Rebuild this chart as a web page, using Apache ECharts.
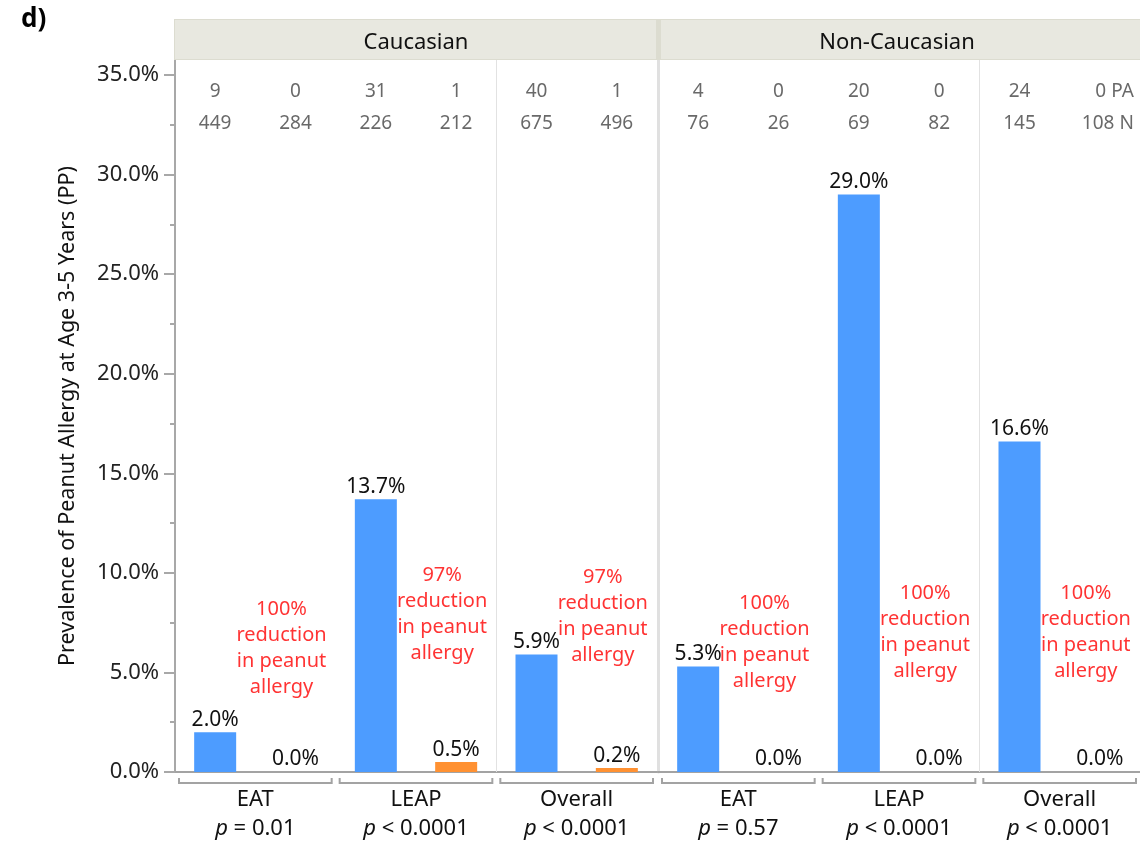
<!DOCTYPE html>
<html>
<head>
<meta charset="utf-8">
<title>Peanut allergy prevalence by ethnicity</title>
<script src="https://cdn.jsdelivr.net/npm/echarts@6/dist/echarts.min.js"></script>
<style>
  html, body { margin: 0; padding: 0; background: #fff; }
  #chart { width: 1140px; height: 848px; }
</style>
</head>
<body>
<div id="chart"></div>
<script>
// ---- data ----------------------------------------------------------------
// Each study contributes two bars: standard introduction (blue) then early introduction (orange).
const panels = ['Caucasian', 'Non-Caucasian'];
const studies = ['EAT', 'LEAP', 'Overall'];
const barSlots = ['EAT-SI', 'EAT-EI', 'LEAP-SI', 'LEAP-EI', 'Overall-SI', 'Overall-EI'];

const prevalenceCaucasian = [2.0, 0.0, 13.7, 0.5, 5.9, 0.2];
const prevalenceNonCaucasian = [5.3, 0.0, 29.0, 0.0, 16.6, 0.0];

const paCaucasian = [9, 0, 31, 1, 40, 1];
const nCaucasian = [449, 284, 226, 212, 675, 496];
const paNonCaucasian = [4, 0, 20, 0, 24, 0];
const nNonCaucasian = [76, 26, 69, 82, 145, 108];

const pCaucasian = ['= 0.01', '< 0.0001', '< 0.0001'];
const pNonCaucasian = ['= 0.57', '< 0.0001', '< 0.0001'];

const reductionCaucasian = ['100%', '97%', '97%'];
const reductionNonCaucasian = ['100%', '100%', '100%'];

const yTickValues = [0, 5, 10, 15, 20, 25, 30, 35];
const yMinorValues = [2.5, 7.5, 12.5, 17.5, 22.5, 27.5, 32.5];

// ---- layout / style ------------------------------------------------------
const FONT = 'Noto Sans';
const BLUE = '#4d9cff';
const ORANGE = '#ff9132';
const RED = '#ff0000';
const Y_MAX = 35.75;           // axis runs a little above the last tick
const ROW_PA = 34.15;          // count rows sit at the top of each panel
const ROW_N = 32.55;
const NOTE_Y = [[6.2, 7.9, 7.8], [6.5, 7.0, 7.0]];

const gridsPx = [
  { left: 175, right: 1140 - 657, top: 60, bottom: 76 },
  { left: 658, right: 0, top: 60, bottom: 76 }
];

const panelData = [
  { prev: prevalenceCaucasian, pa: paCaucasian, n: nCaucasian, p: pCaucasian, red: reductionCaucasian },
  { prev: prevalenceNonCaucasian, pa: paNonCaucasian, n: nNonCaucasian, p: pNonCaucasian, red: reductionNonCaucasian }
];

const chart = echarts.init(document.getElementById('chart'), null, { renderer: 'canvas' });

const grid = gridsPx.map(g => Object.assign({ containLabel: false }, g));
const xAxis = [];
const yAxis = [];
const series = [];

panelData.forEach((pd, g) => {
  // bar axis (6 slots)
  xAxis.push({
    type: 'category', gridIndex: g, data: barSlots,
    axisLine: { show: true, lineStyle: { color: '#a3a3a3', width: 2 } },
    axisTick: { show: false }, axisLabel: { show: false }, splitLine: { show: false }
  });
  // study axis (3 groups) carries the labels and the brackets
  xAxis.push({
    type: 'category', gridIndex: g, data: studies, position: 'bottom',
    axisLine: { show: false, onZero: false }, axisTick: { show: false },
    splitLine: { show: false },
    axisLabel: {
      interval: 0, margin: 13, fontFamily: FONT, color: '#111', fontSize: 22, lineHeight: 29,
      formatter: (v, i) => `{g|${v}}\n{p|p}{t| ${pd.p[i]}}`,
      rich: {
        g: { fontFamily: FONT, fontSize: 22, color: '#111', lineHeight: 29 },
        p: { fontFamily: FONT, fontSize: 22, color: '#111', fontStyle: 'italic', lineHeight: 29 },
        t: { fontFamily: FONT, fontSize: 22, color: '#111', lineHeight: 29 }
      }
    }
  });

  if (g === 0) {
    yAxis.push({
      type: 'value', gridIndex: 0, position: 'left', min: 0, max: Y_MAX, interval: 5,
      name: 'Prevalence of Peanut Allergy at Age 3-5 Years (PP)',
      nameLocation: 'middle', nameGap: 96,
      nameTextStyle: { fontFamily: FONT, fontSize: 21.5, color: '#111' },
      axisLine: { show: true, lineStyle: { color: '#a8a8a8', width: 2 } },
      axisTick: { show: true, customValues: yTickValues, length: 11, lineStyle: { color: '#a8a8a8', width: 2 } },
      axisLabel: {
        customValues: yTickValues, margin: 16, fontFamily: FONT, fontSize: 22, color: '#222',
        formatter: v => (Math.abs(v % 5) < 1e-9 ? v.toFixed(1) + '%' : '')
      },
      splitLine: { show: false }
    });
    // minor ticks between the labelled ones
    yAxis.push({
      type: 'value', gridIndex: 0, position: 'left', offset: 0, min: 0, max: Y_MAX, interval: 5,
      axisLine: { show: false, onZero: false },
      axisTick: { show: true, customValues: yMinorValues, length: 5, lineStyle: { color: '#a8a8a8', width: 2 } },
      axisLabel: { show: false }, splitLine: { show: false }
    });
  } else {
    yAxis.push({
      type: 'value', gridIndex: 1, position: 'left', min: 0, max: Y_MAX, interval: 5,
      axisLine: { show: true, lineStyle: { color: '#e0e0e0', width: 3 } },
      axisTick: { show: false }, axisLabel: { show: false }, splitLine: { show: false }
    });
  }

  const xBar = g * 2;
  const xStudy = g * 2 + 1;
  const yIdx = g === 0 ? 0 : 2;

  series.push({
    type: 'bar', name: panels[g], xAxisIndex: xBar, yAxisIndex: yIdx,
    barWidth: 42, z: 3,
    data: pd.prev.map((v, i) => ({ value: v, itemStyle: { color: i % 2 === 0 ? BLUE : ORANGE } })),
    label: {
      show: true, position: 'top', distance: 2, fontFamily: FONT, fontSize: 21, color: '#111',
      formatter: p => p.value.toFixed(1) + '%'
    }
  });

  const countRow = (vals, rowY, suffix) => ({
    type: 'scatter', xAxisIndex: xBar, yAxisIndex: yIdx, symbolSize: 1, silent: true,
    itemStyle: { color: 'rgba(0,0,0,0)' },
    data: vals.map((v, i) => {
      const item = { value: [i, rowY], count: v };
      if (g === 1 && i === vals.length - 1) {
        item.label = { formatter: v + ' ' + suffix, align: 'right', offset: [34, 0] };
      }
      return item;
    }),
    label: {
      show: true, position: 'inside', align: 'center', verticalAlign: 'middle',
      fontFamily: FONT, fontSize: 19, color: '#444',
      formatter: p => String(p.data.count)
    }
  });
  series.push(countRow(pd.pa, ROW_PA, 'PA'));
  series.push(countRow(pd.n, ROW_N, 'N'));

  // reduction notes beside the early-introduction bars
  series.push({
    type: 'scatter', xAxisIndex: xBar, yAxisIndex: yIdx, symbolSize: 1, silent: true,
    itemStyle: { color: 'rgba(0,0,0,0)' },
    data: pd.red.map((r, k) => ({ value: [k * 2 + 1, NOTE_Y[g][k]], note: r })),
    label: {
      show: true, position: 'inside', align: 'center', verticalAlign: 'middle', offset: [-14, 0],
      fontFamily: FONT, fontSize: 20, lineHeight: 26, color: RED,
      formatter: p => p.data.note + '\nreduction\nin peanut\nallergy'
    }
  });

  // brackets under each study, and the divider in front of the pooled "Overall" group
  series.push({
    type: 'custom', xAxisIndex: xStudy, yAxisIndex: yIdx, silent: true, clip: false, z: 1,
    data: studies.map((s, i) => [i, 0]),
    renderItem: (params, api) => {
      const idx = api.value(0);
      const c = api.coord([idx, 0]);
      const top = api.coord([idx, Y_MAX])[1];
      const w = api.size([1, 0])[0];
      const x0 = c[0] - w / 2 + 4, x1 = c[0] + w / 2 - 4, y = c[1] + 11;
      const children = [{
        type: 'polyline',
        shape: { points: [[x0, y - 5], [x0, y], [x1, y], [x1, y - 5]] },
        style: { stroke: '#a3a3a3', lineWidth: 2, fill: null }
      }];
      if (studies[idx] === 'Overall') {
        const xs = Math.round(c[0] - w / 2) + 0.5;
        children.push({
          type: 'line',
          shape: { x1: xs, y1: top, x2: xs, y2: c[1] },
          style: { stroke: '#e2e2e2', lineWidth: 1 }
        });
      }
      return { type: 'group', children };
    }
  });
});

const option = {
  backgroundColor: '#ffffff',
  animation: false,
  textStyle: { fontFamily: FONT },
  grid, xAxis, yAxis, series,
  graphic: [
    { type: 'text', left: 21, top: 7, style: { text: 'd)', font: `bold 26px "${FONT}"`, fill: '#000' } },
    { type: 'rect', shape: { x: 174, y: 19, width: 966, height: 41 }, style: { fill: '#dcdcd0' }, z: 1 },
    { type: 'rect', shape: { x: 175, y: 20, width: 481, height: 39 }, style: { fill: '#e8e8e0' }, z: 2 },
    { type: 'rect', shape: { x: 661, y: 20, width: 479, height: 39 }, style: { fill: '#e8e8e0' }, z: 2 },
    { type: 'text', x: 416, y: 43, z: 3, style: { text: panels[0], font: `22px "${FONT}"`, fill: '#111', align: 'center', verticalAlign: 'middle' } },
    { type: 'text', x: 897, y: 43, z: 3, style: { text: panels[1], font: `22px "${FONT}"`, fill: '#111', align: 'center', verticalAlign: 'middle' } }
  ]
};

chart.setOption(option);
</script>
</body>
</html>
